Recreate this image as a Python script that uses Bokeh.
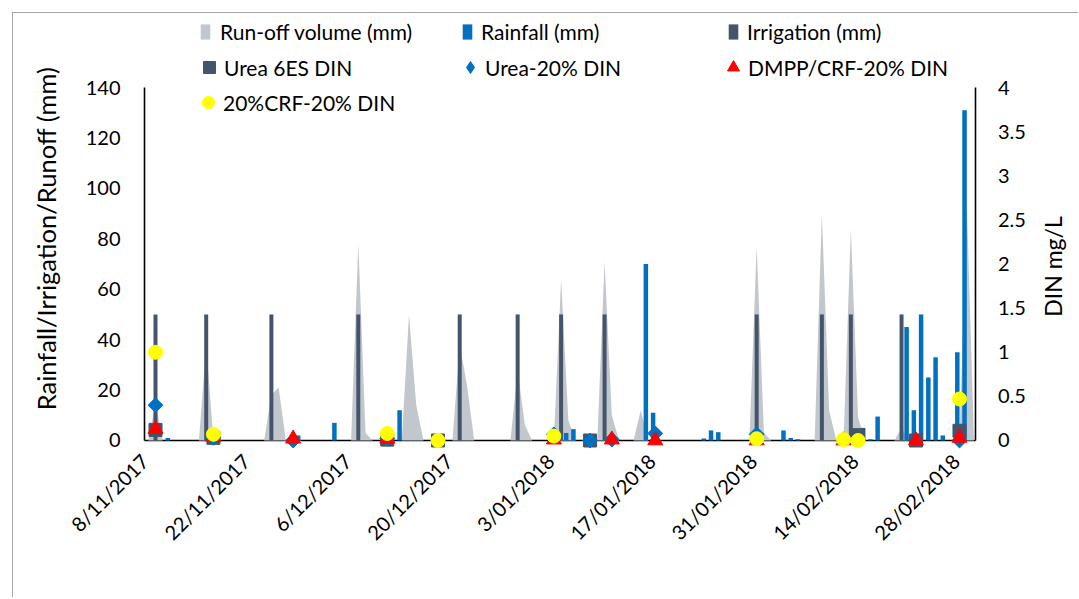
import numpy as np
from bokeh.plotting import figure
from bokeh.models import (Range1d, LinearAxis, FixedTicker, Legend, LegendItem,
                          Label, ColumnDataSource)
from bokeh.transform import dodge
from bokeh.embed import file_html
from bokeh.resources import INLINE

# ---------------- data (x = days after 8/11/2017) ----------------
x_tick_days = [0, 14, 28, 42, 56, 70, 84, 98, 112]
x_tick_labels = ["8/11/2017", "22/11/2017", "6/12/2017", "20/12/2017", "3/01/2018",
                 "17/01/2018", "31/01/2018", "14/02/2018", "28/02/2018"]
left_ticks = [0, 20, 40, 60, 80, 100, 120, 140]
din_ticks = [0, 0.5, 1, 1.5, 2, 2.5, 3, 3.5, 4]
din_tick_labels = ["0", "0.5", "1", "1.5", "2", "2.5", "3", "3.5", "4"]

runoff_days = [-1, 0, 1, 6, 7, 8, 15, 16, 17, 18, 27, 28, 29, 30, 34, 35, 36, 37,
               41, 42, 43, 44, 49, 50, 51, 52, 55, 56, 57, 58, 61, 62, 63, 64,
               66, 67, 68, 82, 83, 84, 85, 91, 92, 93, 94, 95, 96, 97, 98,
               102, 103, 104, 111, 112, 113]
runoff_mm = [0, 15, 0, 0, 38, 0, 0, 18, 21, 0, 0, 78, 3, 0, 0, 50, 14, 0,
             0, 38, 22, 0, 0, 28, 6, 0, 0, 64, 8, 0, 0, 71, 10, 0,
             0, 12, 0, 0, 77, 3, 0, 0, 90, 12, 0, 0, 84, 9, 0,
             0, 5, 0, 0, 95, 0]

irrigation_days = [0, 7, 16, 28, 42, 50, 56, 62, 83, 92, 96, 103]
irrigation_mm = [50, 50, 50, 50, 50, 50, 50, 50, 50, 50, 50, 50]

rain_days = [1, 19, 24, 33, 56, 57, 67, 68, 75, 76, 77, 86, 87, 88, 97, 98, 99,
             103, 104, 105, 106, 107, 108, 110, 111]
rain_mm = [1, 2, 7, 12, 3, 4.5, 70, 11, 0.8, 4, 3.3, 4, 1, 0.5, 5, 0.5, 9.5,
           45, 12, 50, 25, 33, 2, 35, 131]

urea6es_days = [0, 8, 32, 39, 60, 97, 105, 111]
urea6es_din = [0.12, 0.03, 0.01, 0.0, 0.0, 0.06, 0.0, 0.11]

urea20_days = [0, 8, 19, 32, 55, 60, 63, 69, 83, 111]
urea20_din = [0.40, 0.03, 0.0, 0.02, 0.07, 0.0, 0.01, 0.08, 0.07, 0.0]

dmpp_days = [0, 8, 19, 32, 55, 63, 69, 83, 95, 105, 111]
dmpp_din = [0.13, 0.04, 0.02, 0.02, 0.01, 0.01, 0.0, 0.0, 0.0, 0.0, 0.03]

crf_days = [0, 8, 32, 39, 55, 83, 95, 97, 111]
crf_din = [1.0, 0.07, 0.08, 0.0, 0.05, 0.02, 0.01, 0.0, 0.47]

# ---------------- styling ----------------
FONT = "Lato"
C_RUNOFF = "#c2c7cd"
C_RAIN = "#0070c0"
C_IRR = "#44546a"
C_RED = "#ff0000"
C_YEL = "#ffff00"
NB = "\u00a0"

# The frame fills the whole canvas; the axes are drawn at fixed positions inside it
# and bounded to the value ranges, so titles and legend can sit anywhere.
W, H = 1066, 585
X0, X1 = -19.605, 127.57          # visible day range
Y0, Y1 = -62.67, 169.36           # visible mm range
X_LEFT_AXIS, X_RIGHT_AXIS = -1.519, 113.28

p = figure(width=W, height=H, output_backend="svg", toolbar_location=None,
           x_range=Range1d(X0, X1), y_range=Range1d(Y0, Y1),
           min_border_left=0, min_border_right=0, min_border_top=0,
           min_border_bottom=0)
p.styles = {"border-left": "1px solid #a6a6a6", "border-top": "1px solid #a6a6a6",
            "margin-left": "12px", "margin-top": "12px"}
p.outline_line_color = None
p.xgrid.visible = False
p.ygrid.visible = False
p.extra_y_ranges = {"din": Range1d(Y0 * 4 / 140, Y1 * 4 / 140)}

# run-off area
src_ro = ColumnDataSource(dict(x=runoff_days, y=runoff_mm))
r_ro = p.varea(x="x", y1=0, y2="y", source=src_ro, fill_color=C_RUNOFF, fill_alpha=1.0)

# irrigation bars
src_irr = ColumnDataSource(dict(x=irrigation_days, y=irrigation_mm))
r_irr = p.vbar(x="x", top="y", width=0.55, source=src_irr, fill_color=C_IRR, line_color=None)

# rainfall bars
src_rain = ColumnDataSource(dict(x=rain_days, y=rain_mm))
r_rain = p.vbar(x=dodge("x", 0.7, range=p.x_range), top="y", width=0.62, source=src_rain,
                fill_color=C_RAIN, line_color=None)

# DIN markers (secondary axis)
r_sq = p.scatter(urea6es_days, urea6es_din, marker="square", size=13, fill_color=C_IRR,
                 line_color=C_IRR, y_range_name="din")
# small diamonds (covered by the rotated squares below) give the legend its diamond swatch
r_dia_key = p.scatter(urea20_days, urea20_din, marker="diamond", size=9,
                      fill_color=C_RAIN, line_color=C_RAIN, y_range_name="din")
r_dia = p.scatter(urea20_days, urea20_din, marker="square", angle=np.pi / 4, size=10.5,
                  fill_color=C_RAIN, line_color=C_RAIN, y_range_name="din")
r_tri = p.scatter(dmpp_days, dmpp_din, marker="triangle", size=15, fill_color=C_RED,
                  line_color=C_RED, y_range_name="din")
r_cir = p.scatter(crf_days, crf_din, marker="circle", size=14, fill_color=C_YEL,
                  line_color=C_YEL, y_range_name="din")

# ---------------- axes ----------------
xa = p.xaxis[0]
xa.fixed_location = 0
xa.bounds = (X_LEFT_AXIS, X_RIGHT_AXIS)
xa.ticker = FixedTicker(ticks=x_tick_days)
xa.major_label_overrides = {d: lab + NB * 3 for d, lab in zip(x_tick_days, x_tick_labels)}
xa.major_label_orientation = np.pi / 4
xa.major_label_standoff = 6

ya = p.yaxis[0]
ya.fixed_location = X_LEFT_AXIS
ya.bounds = (0, 140)
ya.ticker = FixedTicker(ticks=left_ticks)
ya.major_label_standoff = 24

ra = LinearAxis(y_range_name="din", ticker=FixedTicker(ticks=din_ticks), bounds=(0, 4),
                fixed_location=X_RIGHT_AXIS,
                major_label_overrides=dict(zip(din_ticks, din_tick_labels)))
ra.major_label_standoff = 22
p.add_layout(ra, "right")

for ax in (xa, ya, ra):
    ax.level = "underlay"
    ax.axis_line_color = "black"
    ax.axis_line_width = 1.6
    ax.major_tick_line_color = None
    ax.minor_tick_line_color = None
    ax.major_tick_out = 0
    ax.major_tick_in = 0
    ax.major_label_text_font = FONT
    ax.major_label_text_font_size = "20px"
    ax.major_label_text_color = "black"

# axis titles (screen units from the canvas' bottom-left corner)
p.add_layout(Label(x=32, y=360, x_units="screen", y_units="screen",
                   text="Rainfall/Irrigation/Runoff (mm)", angle=np.pi / 2,
                   text_align="center", text_baseline="middle", text_font=FONT,
                   text_font_size="25.5px", text_color="black"))
p.add_layout(Label(x=1039, y=332, x_units="screen", y_units="screen",
                   text="DIN mg/L", angle=np.pi / 2,
                   text_align="center", text_baseline="middle", text_font=FONT,
                   text_font_size="23px", text_color="black"))

# ---------------- legend (one item per legend for exact placement) ----------------
def add_item(label, rend, gw, gh, standoff, x, y):
    lg = Legend(items=[LegendItem(label=label, renderers=[rend])], location=(x, y),
                orientation="vertical", glyph_width=gw, glyph_height=gh,
                label_standoff=standoff, padding=0, margin=0, spacing=0,
                border_line_color=None, background_fill_alpha=0,
                label_text_font=FONT, label_text_font_size="21px",
                label_text_color="black", label_height=gh)
    p.add_layout(lg, "center")

add_item("Run-off volume (mm)", r_ro, 12, 19, 9, 186, 554)
add_item("Rainfall (mm)", r_rain, 12, 19, 8, 448, 554)
add_item("Irrigation (mm)", r_irr, 12, 19, 8, 714, 554)
add_item("Urea 6ES DIN", r_sq, 30, 30, -4, 181, 516)
add_item("Urea-20% DIN", r_dia_key, 30, 30, -1, 442, 516)
add_item("DMPP/CRF-20% DIN", r_tri, 30, 30, -1, 705, 516)
add_item("20%CRF-20% DIN", r_cir, 30, 30, -3, 180, 481)

open("out.html", "w").write(file_html(p, INLINE))
